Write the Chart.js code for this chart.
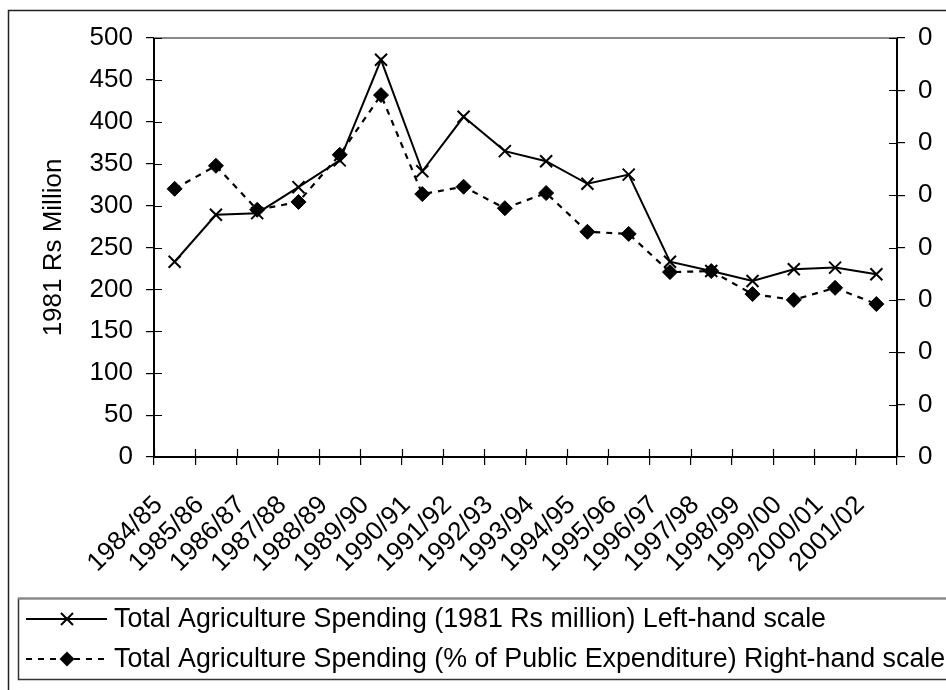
<!DOCTYPE html>
<html>
<head>
<meta charset="utf-8">
<style>
  html, body { margin: 0; padding: 0; background: #fff; }
  #wrap { width: 946px; height: 690px; }
</style>
<script src="https://cdn.jsdelivr.net/npm/chart.js@4/dist/chart.umd.min.js"></script>
</head>
<body>
<div id="wrap"><canvas id="c" width="946" height="690"></canvas></div>
<script>
// Fiscal years on the category axis
const years = ['1984/85','1985/86','1986/87','1987/88','1988/89','1989/90','1990/91','1991/92','1992/93',
  '1993/94','1994/95','1995/96','1996/97','1997/98','1998/99','1999/00','2000/01','2001/02'];

// Total agriculture spending, 1981 Rs million (left-hand scale)
const spendingRs = [233, 289, 291, 322, 354, 474, 341, 406, 365, 353, 326, 337, 233, 222, 210, 224, 226, 218];

// Total agriculture spending as share of public expenditure (right-hand scale)
const spendingShare = [0.0512, 0.0556, 0.0472, 0.0487, 0.0577, 0.0691, 0.0502, 0.0516, 0.0475,
  0.0504, 0.0430, 0.0426, 0.0353, 0.0355, 0.0311, 0.0300, 0.0323, 0.0292];

// Axis ranges / steps
const leftTicks = { min: 0, max: 500, step: 50 };
const rightTicks = { min: 0, max: 0.08, step: 0.01 };

const seriesLabels = [
  'Total Agriculture Spending (1981 Rs million) Left-hand scale',
  'Total Agriculture Spending (% of Public Expenditure) Right-hand scale'
];
const yTitle = '1981 Rs Million';

const FONT = '"Liberation Sans", Arial, Helvetica, sans-serif';
const TICK_LEN = 8;

function drawMarker(ctx, style, r, x, y) {
  ctx.save();
  ctx.fillStyle = '#000';
  ctx.strokeStyle = '#000';
  ctx.lineWidth = 2;
  ctx.setLineDash([]);
  ctx.beginPath();
  if (style === 'crossRot') {
    const d = r * Math.SQRT1_2;
    ctx.moveTo(x - d, y - d); ctx.lineTo(x + d, y + d);
    ctx.moveTo(x - d, y + d); ctx.lineTo(x + d, y - d);
    ctx.stroke();
  } else {
    ctx.moveTo(x, y - r); ctx.lineTo(x + r, y); ctx.lineTo(x, y + r); ctx.lineTo(x - r, y);
    ctx.closePath();
    ctx.fill();
  }
  ctx.restore();
}

// Page background, outer frame, inward tick halves and the boxed legend
const decorations = {
  id: 'decorations',
  beforeDraw(chart) {
    const ctx = chart.ctx;
    ctx.save();
    ctx.fillStyle = '#fff';
    ctx.fillRect(0, 0, chart.width, chart.height);
    ctx.strokeStyle = '#222';
    ctx.lineWidth = 1.5;
    ctx.strokeRect(8.5, 10.5, chart.width + 20, chart.height + 20);
    ctx.restore();
  },
  afterDatasetsDraw(chart) {
    const ctx = chart.ctx;
    const a = chart.chartArea;
    ctx.save();
    // top edge of the plot frame
    ctx.strokeStyle = '#888';
    ctx.lineWidth = 2;
    ctx.beginPath();
    ctx.moveTo(a.left, a.top); ctx.lineTo(a.right, a.top);
    ctx.stroke();
    // tick marks continuing into the plot area
    ctx.strokeStyle = '#000';
    ctx.lineWidth = 1.2;
    ctx.beginPath();
    const yl = chart.scales.y, yr = chart.scales.y1, x = chart.scales.x;
    yl.ticks.forEach((t, i) => {
      const p = Math.round(yl.getPixelForTick(i)) + 0.5;
      ctx.moveTo(a.left, p); ctx.lineTo(a.left + TICK_LEN, p);
    });
    yr.ticks.forEach((t, i) => {
      const p = Math.round(yr.getPixelForTick(i)) + 0.5;
      ctx.moveTo(a.right, p); ctx.lineTo(a.right - TICK_LEN, p);
    });
    for (let i = 0; i <= x.ticks.length; i++) {
      const p = Math.round(x.getPixelForValue(i - 0.5)) + 0.5;
      ctx.moveTo(p, a.bottom); ctx.lineTo(p, a.bottom - TICK_LEN);
    }
    ctx.stroke();
    ctx.restore();
  },
  afterDraw(chart) {
    const ctx = chart.ctx;
    ctx.save();
    // legend box
    ctx.strokeStyle = '#333';
    ctx.lineWidth = 1.5;
    ctx.strokeRect(18.5, 598.5, chart.width + 20, 81);
    ctx.strokeStyle = '#888';
    ctx.lineWidth = 2;
    ctx.beginPath(); ctx.moveTo(18, 598.5); ctx.lineTo(chart.width, 598.5); ctx.stroke();

    ctx.font = '26.8px ' + FONT;
    ctx.fillStyle = '#000';
    ctx.textBaseline = 'middle';
    ctx.textAlign = 'left';
    chart.data.datasets.forEach((ds, i) => {
      const ly = 619 + i * 40;
      ctx.save();
      ctx.strokeStyle = '#000';
      ctx.lineWidth = ds.borderWidth;
      ctx.setLineDash(ds.borderDash || []);
      ctx.beginPath();
      ctx.moveTo(26, ly); ctx.lineTo(107, ly);
      ctx.stroke();
      ctx.restore();
      drawMarker(ctx, ds.pointStyle, ds.pointRadius, 67, ly);
      ctx.fillText(ds.label, 114, ly + 1);
    });
    ctx.restore();
  }
};

const chart = new Chart(document.getElementById('c'), {
  type: 'line',
  data: {
    labels: years,
    datasets: [
      {
        label: seriesLabels[0],
        data: spendingRs,
        yAxisID: 'y',
        borderColor: '#000',
        backgroundColor: '#000',
        borderWidth: 2,
        pointStyle: 'crossRot',
        pointRadius: 8.5,
        pointBorderWidth: 2,
        pointBorderColor: '#000',
        tension: 0,
        fill: false
      },
      {
        label: seriesLabels[1],
        data: spendingShare,
        yAxisID: 'y1',
        borderColor: '#000',
        backgroundColor: '#000',
        borderWidth: 2.2,
        borderDash: [6, 6],
        pointStyle: 'rectRot',
        pointRadius: 7.5,
        pointBorderWidth: 1,
        pointBackgroundColor: '#000',
        pointBorderColor: '#000',
        tension: 0,
        fill: false
      }
    ]
  },
  options: {
    responsive: false,
    animation: false,
    devicePixelRatio: 1,
    layout: { padding: { top: 38, left: 0, right: 0, bottom: 0 } },
    plugins: { legend: { display: false }, tooltip: { enabled: false }, title: { display: false } },
    scales: {
      x: {
        type: 'category',
        offset: true,
        grid: { offset: true, drawOnChartArea: false, drawTicks: true, tickLength: TICK_LEN, color: '#000', lineWidth: 1.2 },
        border: { display: true, color: '#000', width: 2 },
        ticks: {
          autoSkip: false, minRotation: 45, maxRotation: 45,
          color: '#000', font: { family: FONT, size: 26 }, padding: 25, labelOffset: -16
        },
        afterFit(s) { s.height = 233; }
      },
      y: {
        position: 'left',
        min: leftTicks.min, max: leftTicks.max,
        grid: { drawOnChartArea: false, drawTicks: true, tickLength: TICK_LEN, color: '#000', lineWidth: 1.2 },
        border: { display: true, color: '#000', width: 2 },
        ticks: { stepSize: leftTicks.step, color: '#000', font: { family: FONT, size: 26 }, padding: 13 },
        title: { display: true, text: yTitle, color: '#000', font: { family: FONT, size: 26 }, padding: { top: 38, bottom: 0 } },
        afterFit(s) { s.width = 154; }
      },
      y1: {
        position: 'right',
        min: rightTicks.min, max: rightTicks.max,
        grid: { drawOnChartArea: false, drawTicks: true, tickLength: TICK_LEN, color: '#000', lineWidth: 1.2 },
        border: { display: true, color: '#000', width: 2 },
        ticks: {
          stepSize: rightTicks.step, color: '#000', font: { family: FONT, size: 26 }, padding: 13,
          callback: (v) => String(Math.round(v))
        },
        afterFit(s) { s.width = 49; }
      }
    }
  },
  plugins: [decorations]
});
</script>
</body>
</html>
